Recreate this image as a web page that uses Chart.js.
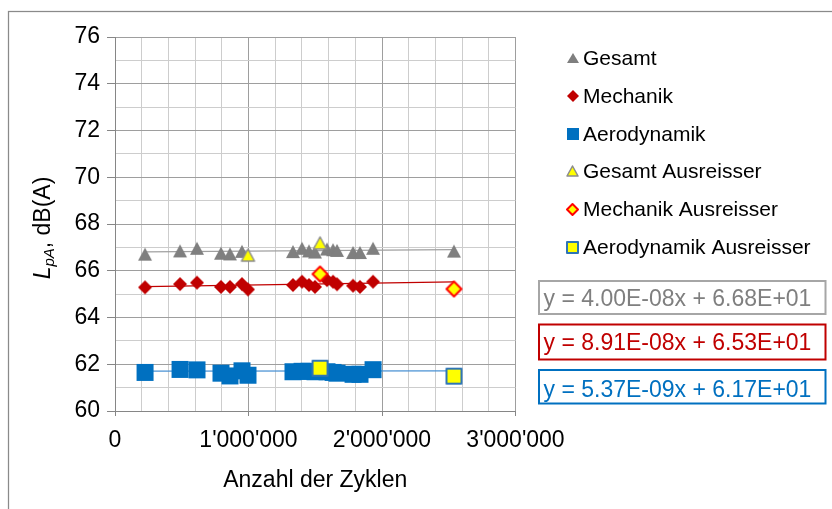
<!DOCTYPE html>
<html>
<head>
<meta charset="utf-8">
<script src="https://cdn.jsdelivr.net/npm/chart.js"></script>
<style>
  html, body { margin: 0; padding: 0; background: #fff; }
  #wrap { width: 832px; height: 509px; }
</style>
</head>
<body>
<div id="wrap"><canvas id="c" width="832" height="509"></canvas></div>
<script>
const FONT = "'Liberation Sans', Arial, sans-serif";

// Series names (legend order)
const seriesNames = ['Gesamt', 'Mechanik', 'Aerodynamik',
  'Gesamt Ausreisser', 'Mechanik Ausreisser', 'Aerodynamik Ausreisser'];

// Gesamtpegel: Zyklen / dB(A)
const gesamtX = [225000, 487000, 614000, 794000, 861000, 951000, 1333000, 1401000, 1453000,
  1498000, 1588000, 1633000, 1663000, 1783000, 1835000, 1933000, 2539000];
const gesamtY = [66.71, 66.85, 66.96, 66.75, 66.72, 66.83, 66.82, 66.96, 66.85,
  66.80, 66.93, 66.90, 66.87, 66.78, 66.78, 66.96, 66.84];
const gesamtAusX = [996000, 1536000];
const gesamtAusY = [66.67, 67.19];

// Mechanik
const mechanikX = [225000, 487000, 614000, 794000, 861000, 951000, 996000, 1333000, 1401000,
  1453000, 1498000, 1588000, 1633000, 1663000, 1783000, 1835000, 1933000];
const mechanikY = [65.29, 65.43, 65.49, 65.31, 65.31, 65.43, 65.20, 65.39, 65.53,
  65.39, 65.31, 65.60, 65.53, 65.42, 65.36, 65.31, 65.53];
const mechanikAusX = [1536000, 2539000];
const mechanikAusY = [65.86, 65.22];

// Aerodynamik
const aeroX = [225000, 487000, 614000, 794000, 861000, 951000, 996000, 1333000, 1401000,
  1453000, 1498000, 1588000, 1633000, 1663000, 1783000, 1835000, 1933000];
const aeroY = [61.65, 61.78, 61.76, 61.62, 61.50, 61.72, 61.53, 61.68, 61.70,
  61.70, 61.68, 61.68, 61.65, 61.62, 61.57, 61.57, 61.77];
const aeroAusX = [1536000, 2539000];
const aeroAusY = [61.83, 61.49];

// Linear trends (Gesamt, Mechanik, Aerodynamik)
const trendSlope = [4.00e-8, 8.91e-8, 5.37e-9];
const trendIntercept = [66.8, 65.3, 61.7];
const trendRange = [225000, 2539000];

// Axis ticks
const xTickLabels = [0, 1000000, 2000000, 3000000];
const yTickLabels = [60, 62, 64, 66, 68, 70, 72, 74, 76];

const GRAY = '#7F7F7F', RED = '#C00000', BLUE = '#0070C0', YELLOW = '#FFFF00';
const TREND = ['#A0A0A0', '#C00000', '#4A92D4'];
const GRID_MAJOR = '#9E9E9E', GRID_MINOR = '#CDCDCD', AXIS = '#868686';

function pts(xs, ys) { return xs.map((x, i) => ({ x, y: ys[i] })); }

function marker(shape, w, h, fill, stroke, lw) {
  lw = lw || 0;
  const pad = Math.ceil(lw) + 1;
  const c = document.createElement('canvas');
  c.width = w + 2 * pad; c.height = h + 2 * pad;
  const g = c.getContext('2d');
  const x0 = pad, y0 = pad;
  g.beginPath();
  if (shape === 'tri') {
    g.moveTo(x0 + w / 2, y0); g.lineTo(x0 + w, y0 + h); g.lineTo(x0, y0 + h);
  } else if (shape === 'dia') {
    g.moveTo(x0 + w / 2, y0); g.lineTo(x0 + w, y0 + h / 2);
    g.lineTo(x0 + w / 2, y0 + h); g.lineTo(x0, y0 + h / 2);
  } else {
    g.rect(x0, y0, w, h);
  }
  g.closePath();
  g.fillStyle = fill; g.fill();
  if (stroke) { g.lineWidth = lw; g.strokeStyle = stroke; g.lineJoin = 'round'; g.stroke(); }
  return c;
}

const plotMarkers = [
  marker('tri', 14, 13, GRAY),
  marker('dia', 14, 14, RED),
  marker('sq', 17, 17, BLUE),
  marker('tri', 13, 12, YELLOW, '#8C8C8C', 1.5),
  marker('dia', 15, 15, YELLOW, '#FF0000', 2),
  marker('sq', 15, 15, YELLOW, '#2E75B6', 2)
];
const legendMarkers = [
  marker('tri', 12, 10, GRAY),
  marker('dia', 12, 12, RED),
  marker('sq', 12, 12, BLUE),
  marker('tri', 11, 10, YELLOW, '#8C8C8C', 1.5),
  marker('dia', 11, 11, YELLOW, '#FF0000', 2),
  marker('sq', 11, 11, YELLOW, '#2E75B6', 2)
];

function sci(v) {
  const parts = v.toExponential(2).split('e');
  const n = parseInt(parts[1], 10);
  return parts[0] + 'E' + (n < 0 ? '-' : '+') + String(Math.abs(n)).padStart(2, '0');
}
function eqText(i) { return 'y = ' + sci(trendSlope[i]) + 'x + ' + sci(trendIntercept[i]); }
function trendPts(i) {
  return trendRange.map(x => ({ x, y: trendSlope[i] * x + trendIntercept[i] }));
}
function fmtThousands(v) { return String(v).replace(/\B(?=(\d{3})+(?!\d))/g, "'"); }

const scatterSets = [
  [gesamtX, gesamtY], [mechanikX, mechanikY], [aeroX, aeroY],
  [gesamtAusX, gesamtAusY], [mechanikAusX, mechanikAusY], [aeroAusX, aeroAusY]
];

const datasets = scatterSets.map((s, i) => ({
  label: seriesNames[i],
  data: pts(s[0], s[1]),
  pointStyle: plotMarkers[i],
  pointRadius: 7,
  order: i < 3 ? 1 : 0
}));
[0, 1, 2].forEach(i => datasets.push({
  label: seriesNames[i] + ' Trend',
  data: trendPts(i),
  showLine: true,
  pointRadius: 0,
  borderColor: TREND[i],
  borderWidth: 1.25,
  order: 2
}));

const decor = {
  id: 'decor',
  beforeDraw(chart) {
    const ctx = chart.ctx;
    ctx.save();
    ctx.fillStyle = '#fff';
    ctx.fillRect(0, 0, chart.width, chart.height);
    ctx.strokeStyle = '#8A8A8A';
    ctx.lineWidth = 1.25;
    ctx.strokeRect(8.5, 11.5, 900, 600);
    ctx.restore();
  },
  afterDraw(chart) {
    const ctx = chart.ctx;
    ctx.save();
    // legend
    ctx.font = '21px ' + FONT;
    ctx.fillStyle = '#000';
    ctx.textBaseline = 'alphabetic';
    seriesNames.forEach((name, i) => {
      const base = 65 + i * 37.8;
      const m = legendMarkers[i];
      ctx.drawImage(m, Math.round(572.5 - m.width / 2), Math.round(base - 7 - m.height / 2));
      ctx.fillText(name, 583, base);
    });
    // trend equations
    const boxes = [[281, 314], [324.5, 359.5], [370, 403.5]];
    const cols = [['#A6A6A6', GRAY], [RED, RED], [BLUE, BLUE]];
    const bases = [305.5, 350, 396.5];
    ctx.font = '23px ' + FONT;
    boxes.forEach((b, i) => {
      ctx.strokeStyle = cols[i][0];
      ctx.lineWidth = 2;
      ctx.strokeRect(539, b[0], 286.5, b[1] - b[0]);
      ctx.fillStyle = cols[i][1];
      ctx.fillText(eqText(i), 543.5, bases[i]);
    });
    // y axis title: L_pA, dB(A)
    ctx.translate(50, 228);
    ctx.rotate(-Math.PI / 2);
    ctx.fillStyle = '#000';
    ctx.font = 'italic 23px ' + FONT; const wL = ctx.measureText('L').width;
    ctx.font = 'italic 15px ' + FONT; const wS = ctx.measureText('pA').width;
    ctx.font = '23px ' + FONT; const wR = ctx.measureText(', dB(A)').width;
    let x = -(wL + wS + wR) / 2;
    ctx.font = 'italic 23px ' + FONT; ctx.fillText('L', x, 0); x += wL;
    ctx.font = 'italic 15px ' + FONT; ctx.fillText('pA', x, 4); x += wS;
    ctx.font = '23px ' + FONT; ctx.fillText(', dB(A)', x, 0);
    ctx.restore();
  }
};

new Chart(document.getElementById('c'), {
  type: 'scatter',
  data: { datasets },
  plugins: [decor],
  options: {
    responsive: false,
    animation: false,
    events: [],
    layout: { padding: { top: 37, right: 316.5, bottom: 0, left: 0 } },
    plugins: { legend: { display: false }, tooltip: { enabled: false } },
    scales: {
      x: {
        type: 'linear', min: 0, max: 3000000,
        afterFit(s) { s.height = 98; },
        ticks: {
          stepSize: 200000, autoSkip: false, maxRotation: 0, minRotation: 0,
          padding: 11, color: '#000',
          font: { family: FONT, size: 23, lineHeight: 1.2 },
          callback: v => xTickLabels.includes(v) ? fmtThousands(v) : ''
        },
        grid: {
          color: c => xTickLabels.includes(c.tick.value) ? GRID_MAJOR : GRID_MINOR,
          tickColor: c => xTickLabels.includes(c.tick.value) ? AXIS : 'rgba(0,0,0,0)',
          tickLength: 5, lineWidth: 1
        },
        border: { color: AXIS, width: 1 },
        title: {
          display: true, text: 'Anzahl der Zyklen', color: '#000',
          font: { family: FONT, size: 23, lineHeight: 1.2 },
          padding: { top: 0, bottom: 15 }
        }
      },
      y: {
        min: 60, max: 76,
        afterFit(s) { s.width = 115; },
        ticks: {
          stepSize: 1, autoSkip: false, padding: 7, color: '#000',
          font: { family: FONT, size: 23, lineHeight: 1.2 },
          callback: v => yTickLabels.includes(v) ? String(v) : ''
        },
        grid: {
          color: c => yTickLabels.includes(c.tick.value) ? GRID_MAJOR : GRID_MINOR,
          tickColor: c => yTickLabels.includes(c.tick.value) ? AXIS : 'rgba(0,0,0,0)',
          tickLength: 8, lineWidth: 1
        },
        border: { color: AXIS, width: 1 }
      }
    }
  }
});
</script>
</body>
</html>
